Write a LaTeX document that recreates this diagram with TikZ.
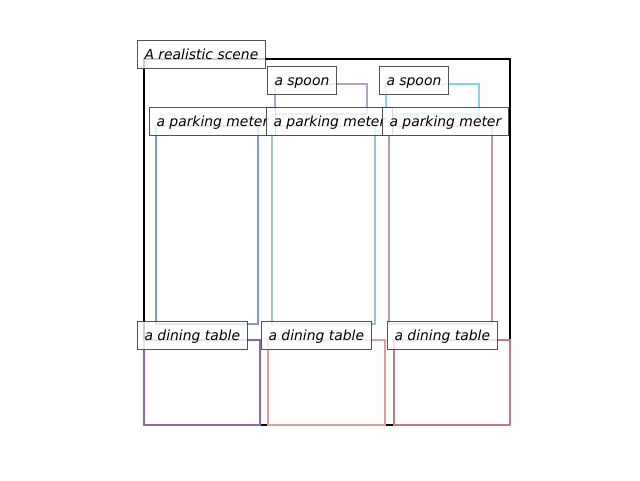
\documentclass[tikz,border=0pt]{standalone}
\usepackage{fontspec}
\setmainfont{DejaVu Sans}
\definecolor{pmA}{HTML}{8092F2}
\definecolor{pmB}{HTML}{98C2D2}
\definecolor{pmC}{HTML}{C29A9A}
\definecolor{spA}{HTML}{B9A0C9}
\definecolor{spB}{HTML}{7FD6F0}
\definecolor{dtA}{HTML}{8F68B2}
\definecolor{dtB}{HTML}{E29C9C}
\definecolor{dtC}{HTML}{C97584}
\definecolor{lblborder}{HTML}{404040}
\tikzset{
  objbox/.style={line width=2.5pt},
  lbl/.style={anchor=base west, fill=white, fill opacity=0.8, text opacity=1,
    draw=lblborder, draw opacity=0.9, line width=1pt, inner xsep=7pt, inner ysep=0pt,
    text height=18.5pt, text depth=9.5pt,
    font=\fontsize{13.9}{16}\selectfont\itshape, xshift=-7pt},
}
\begin{document}
\begin{tikzpicture}[x=1pt,y=-1pt]
\useasboundingbox (0,0) rectangle (640,480);
% scene
\draw[line width=2.5pt, black] (144,59) rectangle (510,425);
% parking meters
\draw[objbox, pmA] (156,126) rectangle (258,324);
\draw[objbox, pmB] (272,126) rectangle (375,324);
\draw[objbox, pmC] (389,126) rectangle (492,324);
% spoons
\draw[objbox, spA] (275,84) rectangle (367,114);
\draw[objbox, spB] (386,84) rectangle (479,114);
% dining tables
\draw[objbox, dtA] (144,340) rectangle (260,425);
\draw[objbox, dtB] (268,340) rectangle (385,425);
\draw[objbox, dtC] (394,340) rectangle (510,425);
% labels
\node[lbl] (scene) at (144,59) {A realistic scene};
\node[lbl] (spoon1) at (274,85) {a spoon};
\node[lbl] (spoon2) at (386,85) {a spoon};
\node[lbl] (pm1) at (156,126) {a parking meter};
\node[lbl] (pm2) at (273,126) {a parking meter};
\node[lbl] (pm3) at (389,126) {a parking meter};
\node[lbl] (dt1) at (144,340) {a dining table};
\node[lbl] (dt2) at (268,340) {a dining table};
\node[lbl] (dt3) at (394,340) {a dining table};
\end{tikzpicture}
\end{document}
